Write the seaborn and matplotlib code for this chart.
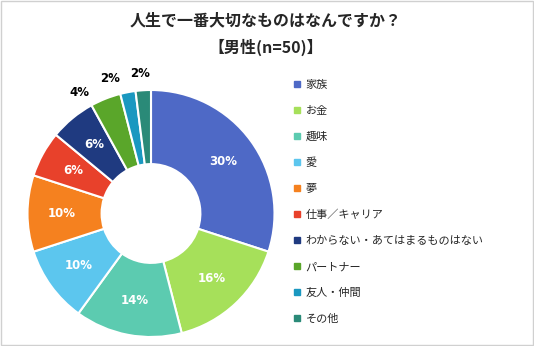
import matplotlib
matplotlib.use("Agg")
import matplotlib.pyplot as plt
import seaborn as sns
import numpy as np
from matplotlib.lines import Line2D
from matplotlib.patches import Rectangle

categories = ["家族", "お金", "趣味", "愛", "夢", "仕事／キャリア",
              "わからない・あてはまるものはない", "パートナー", "友人・仲間", "その他"]
values = [30, 16, 14, 10, 10, 6, 6, 4, 2, 2]
colors = ["#4e69c6", "#a6e05a", "#5ccbb0", "#5cc6ee", "#f5811f",
          "#e8412b", "#1f3a80", "#5aa62a", "#1a98c0", "#2a8a78"]
title_lines = ["人生で一番大切なものはなんですか？", "【男性(n=50)】"]

sns.set_theme(style="white")
plt.rcParams['font.family'] = ['Noto Sans CJK JP', 'DejaVu Sans']

fig = plt.figure(figsize=(5.34, 3.46), dpi=100)
fig.patch.set_facecolor("white")
fig.add_artist(Rectangle((0.002, 0.003), 0.996, 0.994, transform=fig.transFigure,
                         fill=False, edgecolor="#d0d0d0", linewidth=1.0))

cx, cy, r = 151, 346 - 213.5, 123.5
ax = fig.add_axes([(cx - r) / 534, (cy - r) / 346, 2 * r / 534, 2 * r / 346])
pal = sns.color_palette(colors)

wedges, texts, autotexts = ax.pie(
    values, colors=pal, startangle=90, counterclock=False,
    wedgeprops=dict(width=0.6, edgecolor="white", linewidth=1.5),
    autopct=lambda p: f"{p:.0f}%", pctdistance=0.72,
    textprops=dict(color="white", fontsize=8.5, fontweight="bold", family="DejaVu Sans"))
ax.set_xlim(-1, 1)
ax.set_ylim(-1, 1)
ax.set_aspect("auto")
ax.axis("off")

# outside labels for small slices
shifts = {7: 9, 8: 6, 9: 1}
for i, t in enumerate(autotexts):
    if values[i] < 5:
        w = wedges[i]
        ang = np.deg2rad((w.theta1 + w.theta2) / 2 + shifts[i])
        rr = 1.14
        t.set_position((rr * np.cos(ang), rr * np.sin(ang)))
        t.set_color("black")
        t.set_clip_on(False)

fig.text(0.497, 0.942, title_lines[0], ha="center", va="center",
         fontsize=11.5, fontweight="bold")
fig.text(0.497, 0.862, title_lines[1], ha="center", va="center",
         fontsize=11.5, fontweight="bold")

handles = [Line2D([0], [0], marker="s", linestyle="", markersize=4,
                  markerfacecolor=c, markeredgecolor=c) for c in pal]
fig.legend(handles, categories, loc="upper left", bbox_to_anchor=(0.541, 0.783),
           frameon=False, fontsize=8, handlelength=0.6, handletextpad=0.5,
           labelspacing=1.43, borderaxespad=0)

fig.savefig("out.png", dpi=100)
